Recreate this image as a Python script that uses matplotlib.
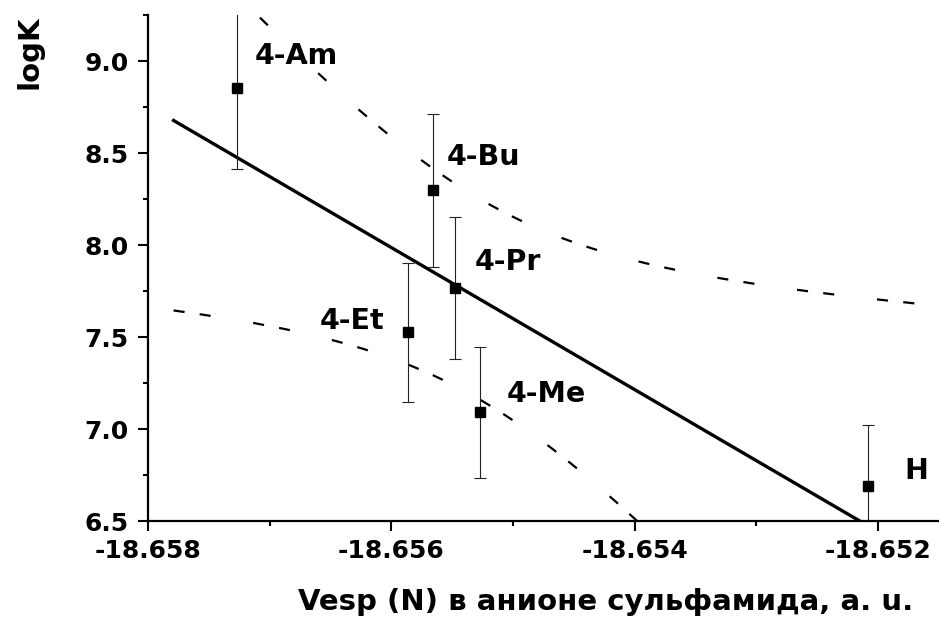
import numpy as np
import matplotlib
matplotlib.use('Agg')
import matplotlib.pyplot as plt
from matplotlib.ticker import MultipleLocator, FormatStrFormatter

# Данные: Vesp(N) в анионе и logK для замещённых сульфамидов
labels = ['4-Am', '4-Bu', '4-Pr', '4-Et', '4-Me', 'H']
vesp = [-18.65727, -18.65566, -18.65548, -18.65586, -18.65527, -18.65208]
logk = [8.855, 8.297, 7.767, 7.527, 7.091, 6.688]
logk_err = [0.442, 0.414, 0.387, 0.378, 0.355, 0.333]

# диапазон, на котором строится прямая регрессии
fit_range = [-18.65779, -18.6514]
t_95 = 2.776  # t-критерий Стьюдента, 4 степени свободы

plt.rcParams['font.family'] = 'DejaVu Sans'
plt.rcParams['font.weight'] = 'bold'
plt.rcParams['axes.unicode_minus'] = False
plt.rcParams['lines.scale_dashes'] = False

fig = plt.figure(figsize=(9.39, 6.19), dpi=100)
ax = fig.add_axes([0.1576, 0.1583, 0.8424, 0.8174])

x = np.array(vesp)
y = np.array(logk)

# линейная регрессия и 95% доверительные границы
x0 = x.mean()
slope, intercept = np.polyfit(x - x0, y, 1)
resid = y - (slope * (x - x0) + intercept)
s = np.sqrt(np.sum(resid ** 2) / (len(x) - 2))
sxx = np.sum((x - x0) ** 2)

xf = np.linspace(fit_range[0], fit_range[1], 300)
yf = slope * (xf - x0) + intercept
half = t_95 * s * np.sqrt(1.0 / len(x) + (xf - x0) ** 2 / sxx)

ax.plot(xf, yf, color='black', lw=2.4, zorder=2)
dash = (0, (8, 11, 8, 31))
ax.plot(xf, yf + half, color='black', lw=1.6, linestyle=dash, zorder=2)
ax.plot(xf, yf - half, color='black', lw=1.6, linestyle=dash, zorder=2)

ax.errorbar(x, y, yerr=logk_err, fmt='s', color='black', markersize=7.5,
            ecolor='#222222', elinewidth=0.8, capsize=4, capthick=0.8, zorder=3)

# подписи точек
label_pos = {
    '4-Am': (-18.65678, 9.027),
    '4-Bu': (-18.65524, 8.479),
    '4-Pr': (-18.65504, 7.910),
    '4-Et': (-18.65632, 7.585),
    '4-Me': (-18.65473, 7.189),
    'H': (-18.65169, 6.771),
}
for name in labels:
    lx, ly = label_pos[name]
    ax.text(lx, ly, name, fontsize=20.5, fontweight='bold', ha='center', va='center')

ax.set_xlim(-18.658, -18.6515)
ax.set_ylim(6.5, 9.25)

ax.xaxis.set_major_locator(MultipleLocator(0.002))
ax.xaxis.set_minor_locator(MultipleLocator(0.001))
ax.xaxis.set_major_formatter(FormatStrFormatter('%.3f'))
ax.yaxis.set_major_locator(MultipleLocator(0.5))
ax.yaxis.set_minor_locator(MultipleLocator(0.25))
ax.yaxis.set_major_formatter(FormatStrFormatter('%.1f'))

for side in ['top', 'right']:
    ax.spines[side].set_visible(False)
for side in ['left', 'bottom']:
    ax.spines[side].set_linewidth(1.6)

ax.tick_params(which='major', length=7, width=1.5, labelsize=18)
ax.tick_params(axis='y', which='major', pad=7)
ax.tick_params(axis='x', which='major', pad=6)
ax.tick_params(which='minor', length=3.6, width=1.5)
for lab in ax.get_xticklabels() + ax.get_yticklabels():
    lab.set_fontweight('bold')

fig.text(30 / 939, 1 - 52 / 619, 'logK', rotation=90, fontsize=21,
         fontweight='bold', ha='center', va='center')
fig.text(606 / 939, 1 - 602 / 619, 'Vesp (N) в анионе сульфамида, a. u.',
         fontsize=21, fontweight='bold', ha='center', va='center')

fig.savefig('out.png', dpi=100)
